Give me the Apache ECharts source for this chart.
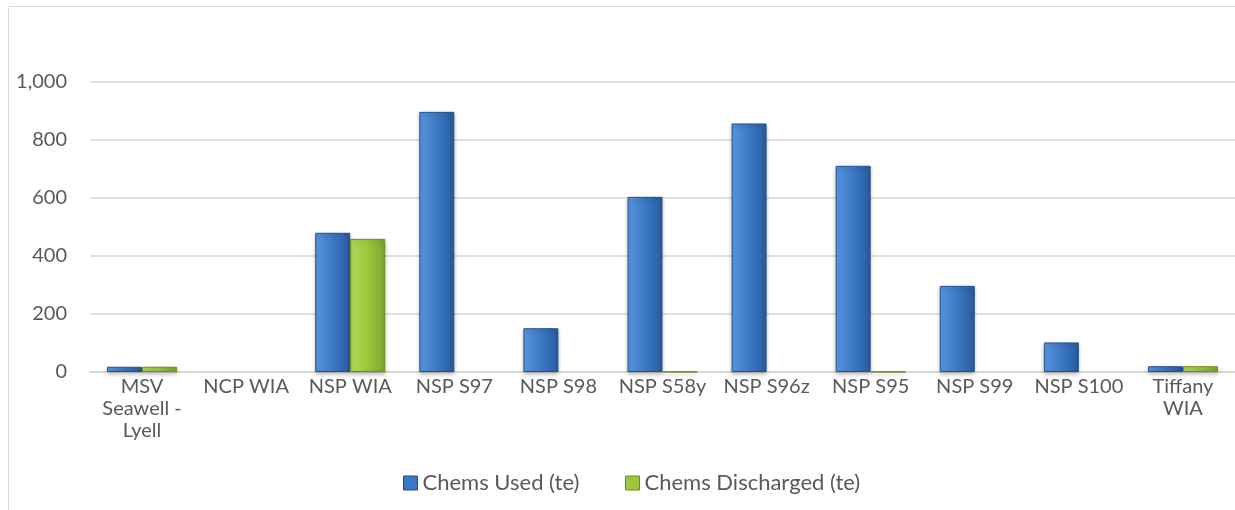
<!DOCTYPE html>
<html>
<head>
<meta charset="utf-8">
<script src="https://cdn.jsdelivr.net/npm/echarts@6/dist/echarts.min.js"></script>
<style>
  html, body { margin: 0; padding: 0; background: #fff; }
  #chart { width: 1235px; height: 510px; }
</style>
</head>
<body>
<div id="chart"></div>
<script>
  // chart data
  const categories = ['MSV\nSeawell -\nLyell', 'NCP WIA', 'NSP WIA', 'NSP S97', 'NSP S98', 'NSP S58y', 'NSP S96z', 'NSP S95', 'NSP S99', 'NSP S100', 'Tiffany\nWIA']
  const seriesNames = ['Chems Used (te)', 'Chems Discharged (te)']
  const chemsUsed = [18, 0, 480, 897, 151, 604, 857, 711, 297, 102, 20]
  const chemsDischarged = [18, 0, 459, 0, 0, 1, 0, 1, 0, 0, 20]
  const yTicks = [0, 200, 400, 600, 800, 1000]

  const fontFamily = 'Lato, "Open Sans", sans-serif'
  const textColor = '#595959'

  // bar fills, light on the left, dark on the right
  const blueFill = new echarts.graphic.LinearGradient(0, 0, 1, 0, [
    { offset: 0, color: '#5a97dc' },
    { offset: 0.5, color: '#3b78c6' },
    { offset: 1, color: '#2a5c9e' }
  ])
  const greenFill = new echarts.graphic.LinearGradient(0, 0, 1, 0, [
    { offset: 0, color: '#b2d85a' },
    { offset: 0.5, color: '#9cc73c' },
    { offset: 1, color: '#7ea52b' }
  ])

  // zero values are not drawn at all (no border sliver)
  const hideZero = arr => arr.map(v => (v === 0 ? null : v))

  const legendBase = {
    top: 467,
    icon: 'rect',
    itemWidth: 14,
    itemHeight: 14,
    textStyle: { color: textColor, fontSize: 22, fontFamily: fontFamily }
  }

  const chart = echarts.init(document.getElementById('chart'))
  chart.setOption({
    animation: false,
    graphic: [{
      type: 'rect',
      shape: { x: 8.5, y: 6.5, width: 1240, height: 520 },
      style: { fill: 'none', stroke: '#d9d9d9', lineWidth: 1 }
    }],
    legend: [
      Object.assign({}, legendBase, {
        left: 398,
        data: [{ name: seriesNames[0], itemStyle: { color: '#3b78c6', borderColor: '#1f4a80', borderWidth: 1 } }]
      }),
      Object.assign({}, legendBase, {
        left: 620,
        data: [{ name: seriesNames[1], itemStyle: { color: '#9cc73c', borderColor: '#6a8f22', borderWidth: 1 } }]
      })
    ],
    grid: {
      left: 90,
      top: 82,
      width: 1148,
      height: 290
    },
    xAxis: {
      type: 'category',
      data: categories,
      axisTick: { show: false },
      axisLine: { lineStyle: { color: '#d9d9d9', width: 2 } },
      axisLabel: {
        color: textColor,
        fontSize: 20,
        fontFamily: fontFamily,
        lineHeight: 22,
        margin: 4,
        interval: 0
      }
    },
    yAxis: {
      type: 'value',
      min: yTicks[0],
      max: yTicks[yTicks.length - 1],
      interval: 200,
      axisLine: { show: false },
      axisTick: { show: false },
      splitLine: { lineStyle: { color: '#d9d9d9', width: 1.5 } },
      axisLabel: {
        color: textColor,
        fontSize: 20,
        fontFamily: fontFamily,
        margin: 23,
        formatter: v => v.toLocaleString('en-US')
      }
    },
    series: [{
      name: seriesNames[0],
      type: 'bar',
      data: hideZero(chemsUsed),
      barWidth: 35,
      barGap: '0%',
      itemStyle: {
        color: blueFill,
        borderColor: '#24528f',
        borderWidth: 1,
        shadowColor: 'rgba(0,0,0,0.25)',
        shadowBlur: 4,
        shadowOffsetY: 2
      }
    }, {
      name: seriesNames[1],
      type: 'bar',
      data: hideZero(chemsDischarged),
      barWidth: 35,
      itemStyle: {
        color: greenFill,
        borderColor: '#6a8f22',
        borderWidth: 1,
        shadowColor: 'rgba(0,0,0,0.25)',
        shadowBlur: 4,
        shadowOffsetY: 2
      }
    }]
  })
</script>
</body>
</html>
